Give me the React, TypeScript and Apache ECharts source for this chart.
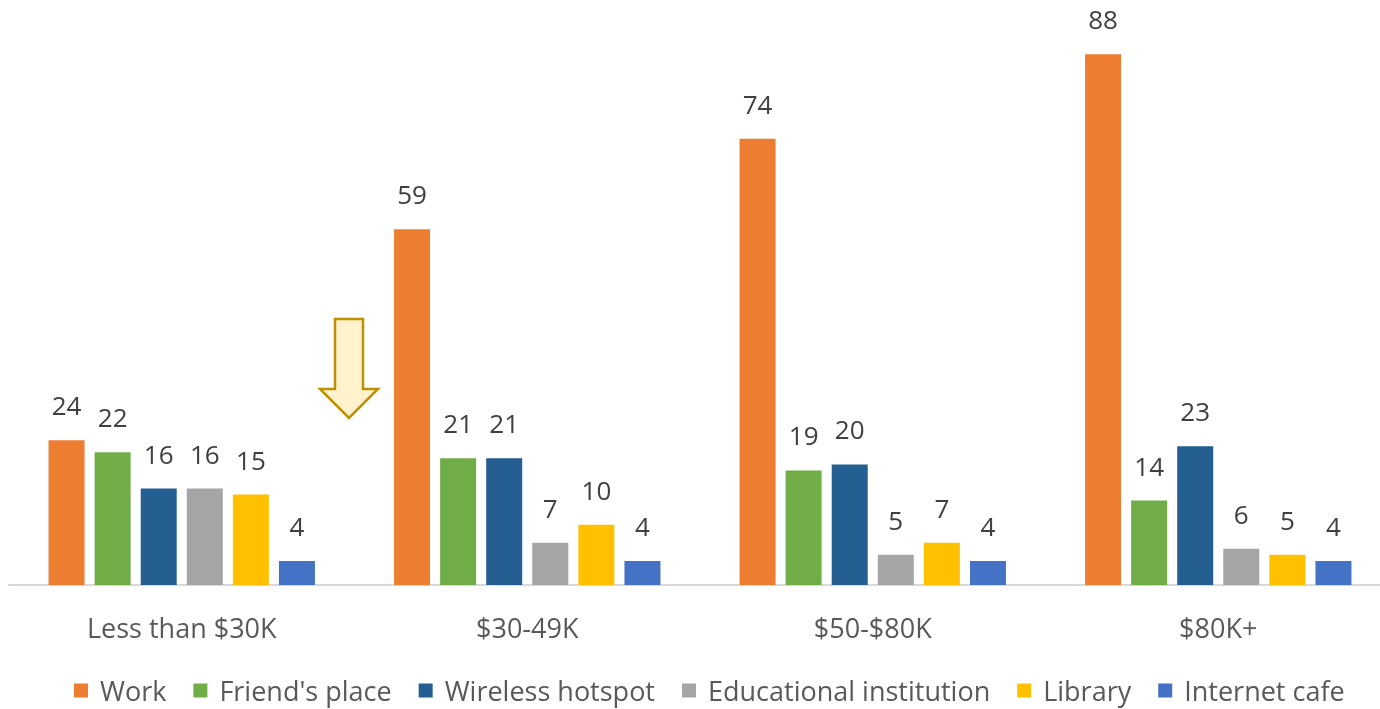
import React, { useEffect, useRef } from "react";
import * as echarts from "echarts";

const categories = ["Less than $30K", "$30-49K", "$50-$80K", "$80K+"];
const seriesNames = ["Work", "Friend's place", "Wireless hotspot", "Educational institution", "Library", "Internet cafe"];
const work = [24, 59, 74, 88];
const friends = [22, 21, 19, 14];
const hotspot = [16, 21, 20, 23];
const education = [16, 7, 5, 6];
const library = [15, 10, 7, 5];
const cafe = [4, 4, 4, 4];
const colors = ["#ED7D31", "#70AD47", "#255E91", "#A5A5A5", "#FFC000", "#4472C4"];

export default function App() {
  const ref = useRef<HTMLDivElement>(null);
  useEffect(() => {
    if (!ref.current) return;
    const chart = echarts.init(ref.current, null, { renderer: "svg" });
    const values = [work, friends, hotspot, education, library, cafe];
    const font = "'Open Sans', 'Noto Sans', sans-serif";
    chart.setOption({
      animation: false,
      textStyle: { fontFamily: font },
      grid: { left: 9, top: 0, width: 1382, height: 585, containLabel: false },
      legend: {
        bottom: 0,
        left: 69,
        icon: "rect",
        itemWidth: 14,
        itemHeight: 14,
        itemGap: 27,
        textStyle: { fontSize: 27, color: "#595959", fontFamily: font, padding: [0, 0, 0, 7] },
        data: seriesNames,
      },
      xAxis: {
        type: "category",
        data: categories,
        axisLine: { lineStyle: { color: "#D9D9D9", width: 2 } },
        axisTick: { show: false },
        axisLabel: { fontSize: 27, color: "#595959", margin: 29, fontFamily: font },
      },
      yAxis: {
        type: "value",
        min: 0,
        max: 97,
        show: false,
        splitLine: { show: false },
      },
      series: values.map((v, i) => ({
        name: seriesNames[i],
        type: "bar",
        data: v,
        barWidth: 36,
        barGap: "28%",
        itemStyle: { color: colors[i] },
        label: {
          show: true,
          position: "top",
          distance: 22,
          fontSize: 26,
          color: "#404040",
          fontFamily: font,
        },
      })),
      graphic: [
        {
          type: "polygon",
          shape: {
            points: [
              [335, 319],
              [363, 319],
              [363, 389],
              [378, 389],
              [349, 418],
              [320, 389],
              [335, 389],
            ],
          },
          style: { fill: "#FFF2CC", stroke: "#BF9000", lineWidth: 2.5 },
        },
      ],
    });
    return () => chart.dispose();
  }, []);
  return (
    <div
      ref={ref}
      style={{ position: "fixed", left: 0, top: 0, width: 1392, height: 709 }}
    />
  );
}
